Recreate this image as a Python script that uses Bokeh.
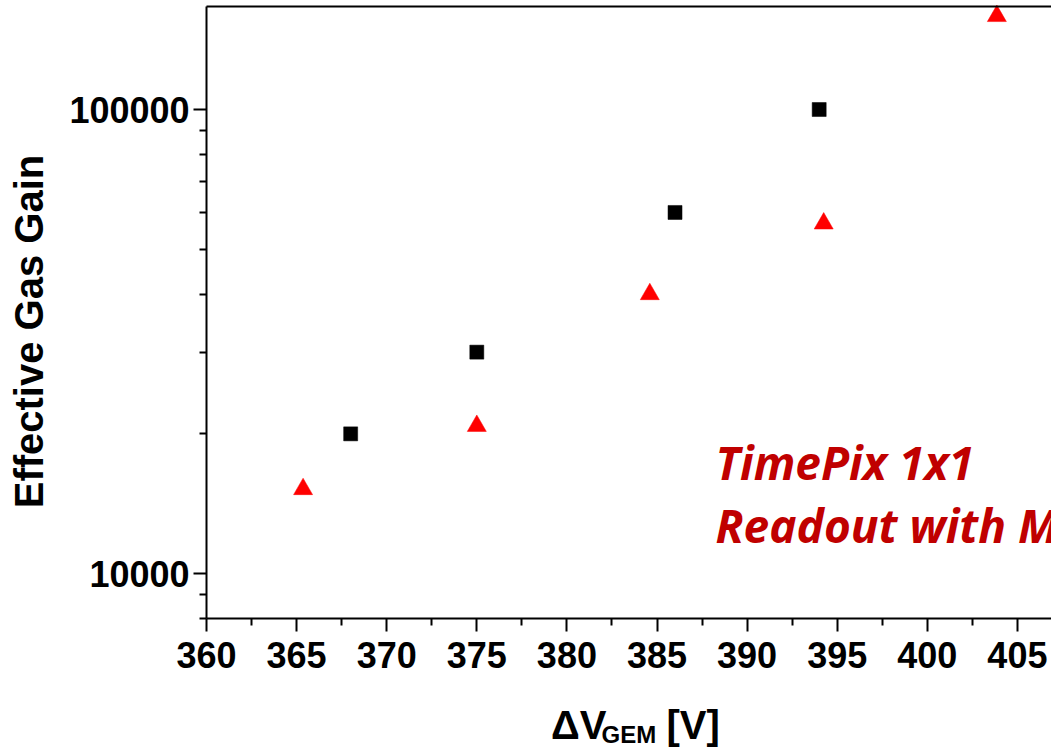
import math
from bokeh.plotting import figure
from bokeh.models import (FixedTicker, CustomJSTickFormatter, Label, Range1d,
                          LinearAxis)
from bokeh.embed import file_html
from bokeh.resources import INLINE

# ---- data ----
square_x = [368.0, 375.0, 386.0, 394.0]
square_gain = [20000, 30000, 60000, 100000]
tri_x = [365.36, 375.0, 384.6, 394.25, 403.86]
tri_gain = [15200, 20800, 40000, 56800, 159000]

x_ticks = [360, 365, 370, 375, 380, 385, 390, 395, 400, 405]
x_minor = [362.5, 367.5, 372.5, 377.5, 382.5, 387.5, 392.5, 397.5, 402.5]
y_ticks = [10000, 100000]
y_minor = [8000, 9000, 20000, 30000, 40000, 50000, 60000, 70000, 80000, 90000]

y_label_text = "Effective Gas Gain"
note_line1 = "TimePix 1x1"
note_line2 = "Readout with M"

# axis extents (the plotted box)
AX_X0, AX_X1 = 360, 406.89
AX_Y0, AX_Y1 = 8000, 166750
# full view range (frame covers whole canvas; axes are placed inside it)
VIEW_X0, VIEW_X1 = 348.568, 406.892
VIEW_Y0, VIEW_Y1 = 4176, 171780

p = figure(width=1051, height=749, output_backend="svg", toolbar_location=None,
           x_range=Range1d(VIEW_X0, VIEW_X1), y_range=Range1d(VIEW_Y0, VIEW_Y1),
           y_axis_type="log", min_border=0,
           min_border_left=0, min_border_right=0, min_border_top=0,
           min_border_bottom=0)

p.outline_line_color = None
p.xgrid.visible = False
p.ygrid.visible = False
p.background_fill_color = "white"
p.border_fill_color = "white"

xa = p.xaxis[0]
ya = p.yaxis[0]
xa.fixed_location = AX_Y0
xa.bounds = (AX_X0, AX_X1)
ya.fixed_location = AX_X0
ya.bounds = (AX_Y0, AX_Y1)

for ax in (xa, ya):
    ax.axis_line_width = 2
    ax.axis_line_color = "black"
    ax.major_tick_line_width = 2
    ax.minor_tick_line_width = 2
    ax.major_tick_in = 0
    ax.major_tick_out = 13
    ax.minor_tick_in = 0
    ax.minor_tick_out = 7
    ax.major_label_text_font = "Liberation Sans"
    ax.major_label_text_font_style = "bold"
    ax.major_label_text_font_size = "36px"
    ax.major_label_text_color = "black"
    ax.axis_label = None

xa.major_label_standoff = 11
ya.major_label_standoff = 4

xa.ticker = FixedTicker(ticks=x_ticks, minor_ticks=x_minor)
ya.ticker = FixedTicker(ticks=y_ticks, minor_ticks=y_minor)
xa.formatter = CustomJSTickFormatter(code="return tick.toFixed(0);")
ya.formatter = CustomJSTickFormatter(code="return tick.toFixed(0);")

# top frame line (axis without ticks)
top = LinearAxis(fixed_location=AX_Y1, bounds=(AX_X0, AX_X1),
                 ticker=FixedTicker(ticks=[], minor_ticks=[]),
                 axis_line_width=2, axis_line_color="black",
                 major_tick_line_color=None, minor_tick_line_color=None,
                 major_label_text_font_size="0px")
p.add_layout(top, "above")

# data markers
p.scatter(square_x, square_gain, marker="square", size=14, fill_color="black",
          line_color="black", line_width=0.5)
p.scatter(tri_x, tri_gain, marker="triangle", size=19, fill_color="#FF0000",
          line_color="#FF0000", line_width=0.5)

# y-axis title
p.add_layout(Label(x=350.122, y=33230, text=y_label_text, angle=math.pi / 2,
                   text_align="center", text_baseline="middle",
                   text_font="Liberation Sans", text_font_style="bold",
                   text_font_size="40px", text_color="black"))

# x-axis title: ΔV_GEM [V]
p.add_layout(Label(x=382.197, y=4727, text="\u0394V", text_align="right",
                   text_baseline="middle", text_font="Liberation Sans",
                   text_font_style="bold", text_font_size="40px", text_color="black"))
p.add_layout(Label(x=381.92, y=4498, text="GEM", text_align="left",
                   text_baseline="middle", text_font="Liberation Sans",
                   text_font_style="bold", text_font_size="24px", text_color="black"))
p.add_layout(Label(x=385.527, y=4727, text="[V]", text_align="left",
                   text_baseline="middle", text_font="Liberation Sans",
                   text_font_style="bold", text_font_size="40px", text_color="black"))

# red annotation
for txt, yy in ((note_line1, 17400), (note_line2, 12750)):
    p.add_layout(Label(x=388.25, y=yy, text=txt, text_align="left",
                       text_baseline="middle", text_font="Open Sans",
                       text_font_style="bold italic", text_font_size="46px",
                       text_color="#C00000"))

open("out.html", "w").write(file_html(p, INLINE))
